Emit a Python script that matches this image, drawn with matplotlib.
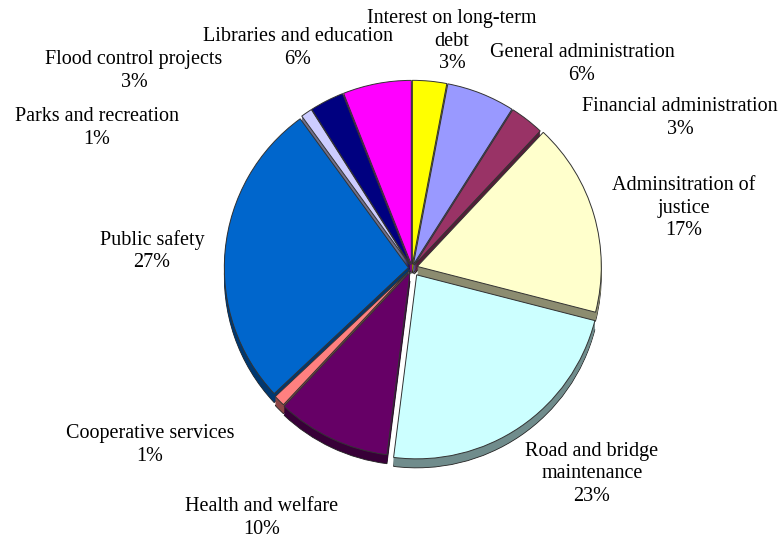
import matplotlib
matplotlib.use("Agg")
import matplotlib.pyplot as plt
from matplotlib.colors import to_rgb

# data, clockwise from 12 o'clock
labels = [
    "Interest on long-term\ndebt",
    "General administration",
    "Financial administration",
    "Adminsitration of\njustice",
    "Road and bridge\nmaintenance",
    "Health and welfare",
    "Cooperative services",
    "Public safety",
    "Parks and recreation",
    "Flood control projects",
    "Libraries and education",
]
shares = [3, 6, 3, 17, 23, 10, 1, 27, 1, 3, 6]

colors = ["#FFFF00", "#9999FF", "#993366", "#FFFFCC", "#CCFFFF", "#660066",
          "#FF8080", "#0066CC", "#CCCCFF", "#000080", "#FF00FF"]
explode_frac = [0.02, 0.02, 0.02, 0.03, 0.045, 0.025, 0.02, 0.02, 0.02, 0.02, 0.02]

# label block centres in pixels (x, y from top)
label_pos = [(452, 41), (582, 64), (680, 118), (684, 208), (592, 474),
             (262, 518), (150, 445), (152, 251), (97, 128), (134, 71),
             (298, 48)]

W, H = 782, 539
fig = plt.figure(figsize=(W / 100, H / 100), dpi=100)
ax = fig.add_axes([0, 0, 1, 1])

cx, cy, r = 412, H - 268, 184
explode = [e * r for e in explode_frac]
dark = [tuple(c * 0.55 for c in to_rgb(col)) for col in colors]

# side of the 3D pie: stack of darker copies shifted downward
for d in range(9, 0, -1):
    ax.pie(shares, colors=dark, explode=explode, startangle=90,
           counterclock=False, radius=r, center=(cx, cy - d),
           wedgeprops=dict(linewidth=0.6 if d == 9 else 0,
                           edgecolor="#222222"))

ax.pie(shares, colors=colors, explode=explode, startangle=90,
       counterclock=False, radius=r, center=(cx, cy),
       wedgeprops=dict(linewidth=0.7, edgecolor="#333333"))

step = 22.5
for lab, val, (x, y) in zip(labels, shares, label_pos):
    lines = lab.split("\n") + [f"{val}%"]
    y0 = y - step * (len(lines) - 1) / 2
    for i, line in enumerate(lines):
        ax.text(x, H - (y0 + i * step), line, ha="center", va="center",
                fontsize=14.5, family=["Liberation Serif", "DejaVu Serif"],
                color="black")

ax.set_xlim(0, W)
ax.set_ylim(0, H)
ax.set_aspect("equal")
ax.axis("off")

fig.savefig("out.png", dpi=100, facecolor="white")
